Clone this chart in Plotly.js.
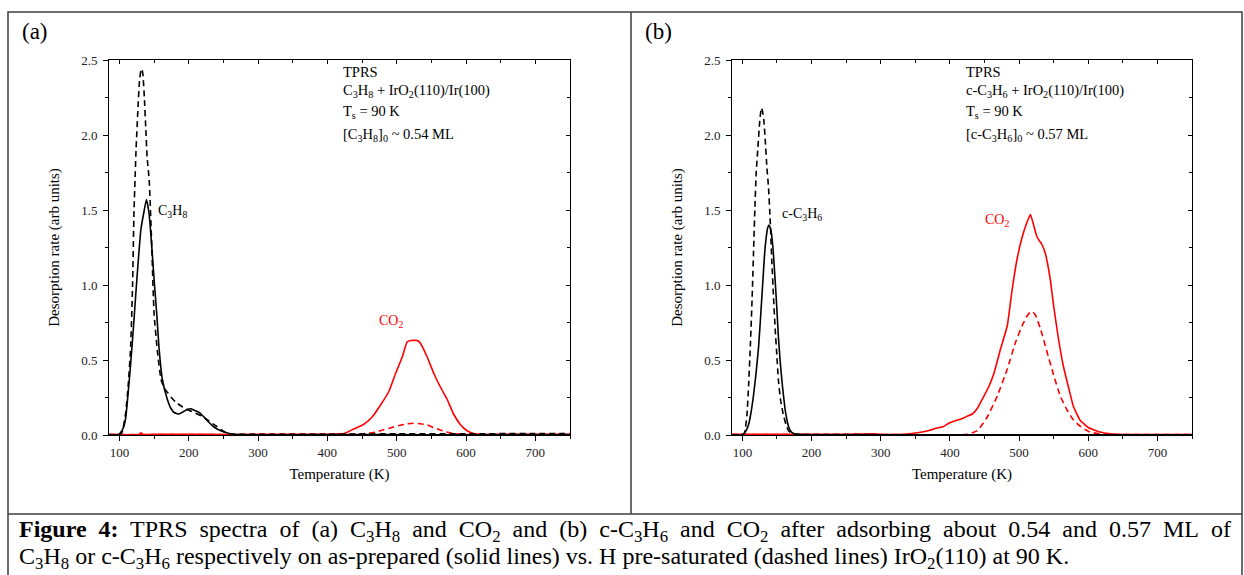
<!DOCTYPE html>
<html>
<head>
<meta charset="utf-8">
<script src="https://cdn.plot.ly/plotly-3.0.1.min.js"></script>
<style>html,body{margin:0;padding:0;background:#fff;}#chart{width:1244px;height:575px;}</style>
</head>
<body>
<div id="chart"></div>
<script>
// ---------- Data: panel (a) C3H8 on IrO2(110) ----------
const aC3H8SolidT = [85,95,100,105,109,113,116,120,123.5,127,131,135.5,139,142.7,146,150,154,157,162,169,174,179,186,192,198,203,208,215,222,229,236,243,251,260,270,290,350,450,550,650,750];
const aC3H8Solid  = [0,0,0.005,0.04,0.11,0.3,0.46,0.7,0.93,1.15,1.37,1.49,1.57,1.48,1.3,1.04,0.8,0.59,0.37,0.24,0.18,0.15,0.14,0.155,0.17,0.175,0.165,0.15,0.12,0.085,0.055,0.035,0.02,0.008,0.003,0.002,0.002,0.003,0.002,0.002,0.002];

const aC3H8DashT = [85,100,104,109,113,116.3,119,121,124,127,129,131,132.5,134,136,138,140,143,146,150,155,160,165,170,175,181,190,198,210,221,230,241,250,256,265,300,400,500,600,700,750];
const aC3H8Dash  = [0,0,0.02,0.145,0.35,0.59,1.0,1.48,1.9,2.2,2.36,2.43,2.44,2.4,2.25,2.05,1.85,1.7,1.35,0.81,0.55,0.37,0.31,0.28,0.25,0.22,0.19,0.17,0.145,0.12,0.09,0.055,0.025,0.01,0.005,0.004,0.005,0.008,0.008,0.01,0.01];

const aCO2SolidT = [85,100,128,131,134,150,200,250,300,350,380,400,424,438,452,464.6,476.7,488.7,498.4,508,515,520,530,534.4,544,553.6,563,572.6,582,591.8,601,611,625,650,700,750];
const aCO2Solid  = [0.005,0.003,0.003,0.015,0.003,0.004,0.005,0.003,0.004,0.005,0.004,0.005,0.01,0.04,0.07,0.12,0.2,0.29,0.41,0.52,0.62,0.63,0.63,0.61,0.52,0.41,0.32,0.24,0.14,0.07,0.03,0.01,0.004,0.004,0.004,0.004];

const aCO2DashT = [85,200,300,400,440,457,470,481,493,505,515,524,534,544,553,563,572,582,595,610,650,750];
const aCO2Dash  = [0.003,0.003,0.004,0.004,0.005,0.01,0.02,0.035,0.05,0.065,0.074,0.078,0.075,0.067,0.05,0.033,0.02,0.01,0.004,0.003,0.003,0.003];

// ---------- Data: panel (b) c-C3H6 on IrO2(110) ----------
const bC3H6SolidT = [85,98,102,106,109,112.5,116,119.5,123.5,126.5,129.7,132,134.5,136.5,138.3,140.5,142.7,145,147.4,150,152,154.5,157,159.5,161.8,164,166.5,170,174,180,200,300,400,500,600,750];
const bC3H6Solid  = [0,0,0.01,0.035,0.07,0.15,0.26,0.4,0.59,0.8,1.03,1.2,1.32,1.38,1.40,1.38,1.32,1.2,1.03,0.83,0.66,0.5,0.37,0.26,0.17,0.11,0.06,0.025,0.01,0.004,0.002,0.002,0.002,0.002,0.002,0.002];

const bC3H6DashT = [85,99,103,106.7,109,111.5,114,116,118,120,122.5,124.9,127.3,129,131,133,135.5,137.8,140,142.7,145,147.4,150,152,155,159,163,166.5,170,174,180,200,300,400,500,600,750];
const bC3H6Dash  = [0,0,0.01,0.14,0.33,0.59,0.9,1.2,1.5,1.75,1.92,2.08,2.18,2.16,2.1,1.97,1.78,1.65,1.45,1.15,0.92,0.71,0.52,0.37,0.24,0.14,0.07,0.03,0.015,0.007,0.004,0.003,0.002,0.002,0.002,0.002,0.002];

const bCO2SolidT = [85,150,200,250,290,300,331,345,360,370,380,390,399,408,418,425,432.5,440,447,456,463.6,473,483,490,497,504.5,511.6,516.4,521,526,533,538,545,550,557,564,571.4,578.6,588,600,617,636,660,700,750];
const bCO2Solid  = [0.005,0.004,0.004,0.004,0.008,0.004,0.004,0.01,0.02,0.03,0.045,0.055,0.08,0.095,0.11,0.125,0.14,0.18,0.24,0.32,0.41,0.57,0.73,0.97,1.17,1.32,1.42,1.47,1.40,1.32,1.27,1.21,1.04,0.86,0.64,0.46,0.32,0.19,0.10,0.05,0.02,0.006,0.003,0.003,0.003];

const bCO2DashT = [85,300,425,440,454,468.5,483,495,504.6,511,516.4,520,523.6,530.8,540,550,559.5,569,578.6,588,602,620,650,750];
const bCO2Dash  = [0.003,0.003,0.004,0.03,0.12,0.26,0.44,0.62,0.73,0.79,0.82,0.82,0.80,0.71,0.56,0.40,0.26,0.17,0.10,0.06,0.02,0.005,0.003,0.003];

// ---------- Text ----------
const panelLabels = ['(a)', '(b)'];
const infoA = ['TPRS', 'C<sub>3</sub>H<sub>8</sub> + IrO<sub>2</sub>(110)/Ir(100)', 'T<sub>s</sub> = 90 K', '[C<sub>3</sub>H<sub>8</sub>]<sub>0</sub> ~ 0.54 ML'];
const infoB = ['TPRS', 'c-C<sub>3</sub>H<sub>6</sub> + IrO<sub>2</sub>(110)/Ir(100)', 'T<sub>s</sub> = 90 K', '[c-C<sub>3</sub>H<sub>6</sub>]<sub>0</sub> ~ 0.57 ML'];
const xTitle = 'Temperature (K)';
const yTitle = 'Desorption rate (arb units)';
const caption1 = '<b>Figure 4:</b> TPRS spectra of (a) C<sub>3</sub>H<sub>8</sub> and CO<sub>2</sub> and (b) c-C<sub>3</sub>H<sub>6</sub> and CO<sub>2</sub> after adsorbing about 0.54 and 0.57 ML of';
const caption2 = 'C<sub>3</sub>H<sub>8</sub> or c-C<sub>3</sub>H<sub>6</sub> respectively on as-prepared (solid lines) vs. H pre-saturated (dashed lines) IrO<sub>2</sub>(110) at 90 K.';

// ---------- Helpers ----------
const W = 1244, H = 575;
const px = v => v / W;
const py = v => 1 - v / H;
const FONT = 'Liberation Serif, Times New Roman, serif';
const dashPat = '6px,4px';
// justified first caption line: widen every word gap by one no-break space
const justify = s => s.replace(/ (?![^<]*>)/g, '\u00a0 ');

function line(x, y, color, dash, xa, ya) {
  return {x: x, y: y, type: 'scatter', mode: 'lines', xaxis: xa, yaxis: ya,
    line: {color: color, width: 1.6, dash: dash, shape: 'spline', smoothing: 0.4},
    hoverinfo: 'skip', showlegend: false};
}
const traces = [
  line(aCO2SolidT, aCO2Solid, '#ff0000', 'solid', 'x', 'y'),
  line(aCO2DashT, aCO2Dash, '#ff0000', dashPat, 'x', 'y'),
  line(aC3H8DashT, aC3H8Dash, '#000000', dashPat, 'x', 'y'),
  line(aC3H8SolidT, aC3H8Solid, '#000000', 'solid', 'x', 'y'),
  line(bCO2SolidT, bCO2Solid, '#ff0000', 'solid', 'x2', 'y2'),
  line(bCO2DashT, bCO2Dash, '#ff0000', dashPat, 'x2', 'y2'),
  line(bC3H6DashT, bC3H6Dash, '#000000', dashPat, 'x2', 'y2'),
  line(bC3H6SolidT, bC3H6Solid, '#000000', 'solid', 'x2', 'y2'),
  // carriers for the mirrored (inside-tick) frame axes
  {x: [null], y: [null], xaxis: 'x3', yaxis: 'y3', type: 'scatter', mode: 'lines', hoverinfo: 'skip', showlegend: false},
  {x: [null], y: [null], xaxis: 'x4', yaxis: 'y4', type: 'scatter', mode: 'lines', hoverinfo: 'skip', showlegend: false}
];

const yDom = [1 - 435 / H, 1 - 60 / H];
const xDomA = [109 / W, 570 / W];
const xDomB = [732 / W, 1192 / W];
const tickFont = {family: FONT, size: 13, color: '#222'};
const titleFont = {family: FONT, size: 15, color: '#000'};

function xAxis(dom, anchor) {
  return {domain: dom, anchor: anchor, range: [85, 750], tick0: 0, dtick: 100,
    ticks: 'outside', ticklen: 5, tickwidth: 1, tickcolor: '#000',
    minor: {dtick: 50, tick0: 0, ticks: 'outside', ticklen: 3, tickwidth: 1, tickcolor: '#000'},
    showline: true, linecolor: '#000', linewidth: 1, showgrid: false, zeroline: false,
    tickfont: tickFont, title: {text: xTitle, font: titleFont, standoff: 9}};
}
function yAxis(dom, anchor) {
  return {domain: dom, anchor: anchor, range: [0, 2.5], tick0: 0, dtick: 0.5, tickformat: '.1f',
    ticks: 'outside', ticklen: 5, tickwidth: 1, tickcolor: '#000',
    minor: {dtick: 0.25, tick0: 0, ticks: 'outside', ticklen: 3, tickwidth: 1, tickcolor: '#000'},
    showline: true, linecolor: '#000', linewidth: 1, showgrid: false, zeroline: false,
    tickfont: tickFont, ticklabelstandoff: 3, title: {text: yTitle, font: titleFont, standoff: 17}};
}
function xTop(over, anchor) {
  return {overlaying: over, anchor: anchor, side: 'top', range: [85, 750], tick0: 0, dtick: 100,
    ticks: 'inside', ticklen: 4, tickcolor: '#000',
    minor: {dtick: 50, tick0: 0, ticks: 'inside', ticklen: 3, tickcolor: '#000'},
    showticklabels: false, showline: true, linecolor: '#000', linewidth: 1, showgrid: false, zeroline: false};
}
function yRight(over, anchor) {
  return {overlaying: over, anchor: anchor, side: 'right', range: [0, 2.5], tick0: 0, dtick: 0.5,
    ticks: 'inside', ticklen: 4, tickcolor: '#000',
    minor: {dtick: 0.25, tick0: 0, ticks: 'inside', ticklen: 3, tickcolor: '#000'},
    showticklabels: false, showline: true, linecolor: '#000', linewidth: 1, showgrid: false, zeroline: false};
}

const annotations = [];
function txt(text, x, y, opts) {
  annotations.push(Object.assign({text: text, x: x, y: y, xref: 'paper', yref: 'paper',
    xanchor: 'left', yanchor: 'middle', showarrow: false,
    font: {family: FONT, size: 14, color: '#000'}}, opts || {}));
}
function dtxt(text, x, y, xr, yr, color, size) {
  annotations.push({text: text, x: x, y: y, xref: xr, yref: yr, xanchor: 'left', yanchor: 'middle',
    showarrow: false, font: {family: FONT, size: size || 14, color: color || '#000'}});
}
// panel labels
txt(panelLabels[0], px(20), py(31), {font: {family: FONT, size: 23, color: '#000'}});
txt(panelLabels[1], px(643), py(31), {font: {family: FONT, size: 23, color: '#000'}});
// info blocks (data coords)
const infoY = [2.42, 2.29, 2.15, 2.0];
infoA.forEach((t, i) => dtxt(t, 420, infoY[i], 'x', 'y', '#000', 14.5));
infoB.forEach((t, i) => dtxt(t, 420, infoY[i], 'x2', 'y2', '#000', 14.5));
// species labels
dtxt('C<sub>3</sub>H<sub>8</sub>', 153, 1.49, 'x', 'y');
dtxt('CO<sub>2</sub>', 471, 0.76, 'x', 'y', '#ff0000');
dtxt('c-C<sub>3</sub>H<sub>6</sub>', 155, 1.47, 'x2', 'y2');
dtxt('CO<sub>2</sub>', 448, 1.43, 'x2', 'y2', '#ff0000');
// caption
txt(justify(caption1), px(17), py(531), {font: {family: FONT, size: 24, color: '#000'}});
txt(caption2, px(17), py(558), {font: {family: FONT, size: 24, color: '#000'}});

const frameColor = '#3c3c3c';
const shapes = [
  {type: 'rect', xref: 'paper', yref: 'paper', x0: px(8), x1: px(1242), y0: py(576), y1: py(12),
    line: {color: frameColor, width: 1.5}},
  {type: 'line', xref: 'paper', yref: 'paper', x0: px(631), x1: px(631), y0: py(514), y1: py(12),
    line: {color: frameColor, width: 1.5}},
  {type: 'line', xref: 'paper', yref: 'paper', x0: px(8), x1: px(1242), y0: py(514), y1: py(514),
    line: {color: frameColor, width: 1.5}}
];

const layout = {
  width: W, height: H, margin: {l: 0, r: 0, t: 0, b: 0},
  paper_bgcolor: '#fff', plot_bgcolor: '#fff', showlegend: false,
  font: {family: FONT},
  xaxis: xAxis(xDomA, 'y'), yaxis: yAxis(yDom, 'x'),
  xaxis2: xAxis(xDomB, 'y2'), yaxis2: yAxis(yDom, 'x2'),
  xaxis3: xTop('x', 'y'), yaxis3: yRight('y', 'x'),
  xaxis4: xTop('x2', 'y2'), yaxis4: yRight('y2', 'x2'),
  annotations: annotations, shapes: shapes
};
Plotly.newPlot('chart', traces, layout, {staticPlot: true, displayModeBar: false});
</script>
</body>
</html>
